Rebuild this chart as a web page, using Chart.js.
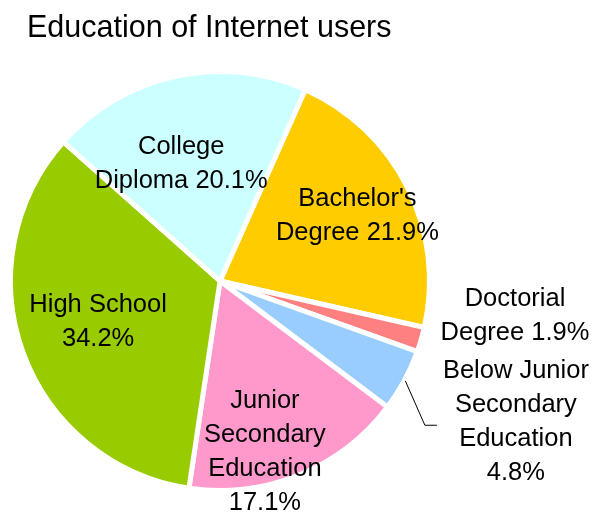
<!DOCTYPE html>
<html>
<head>
<meta charset="utf-8">
<title>Education of Internet users</title>
<script src="https://cdn.jsdelivr.net/npm/chart.js@4"></script>
<style>
  html, body { margin: 0; padding: 0; background: #fff; }
  canvas { display: block; }
</style>
</head>
<body>
<canvas id="eduPie" width="591" height="516"></canvas>
<script>
// ===== Data =====
const chartTitle = 'Education of Internet users';
const categories = [
  "Bachelor's Degree",
  'Doctorial Degree',
  'Below Junior Secondary Education',
  'Junior Secondary Education',
  'High School',
  'College Diploma'
];
const shares = [21.9, 1.9, 4.8, 17.1, 34.2, 20.1];
// how each label is broken into lines, {v} = the share
const labelLines = [
  ["Bachelor's", 'Degree {v}'],
  ['Doctorial', 'Degree {v}'],
  ['Below Junior', 'Secondary', 'Education', '{v}'],
  ['Junior', 'Secondary', 'Education', '{v}'],
  ['High School', '{v}'],
  ['College', 'Diploma {v}']
];
const sliceColors = ['#ffcc00', '#ff8080', '#99ccff', '#ff99cc', '#99cc00', '#ccffff'];

const FONT = '"Liberation Sans", Arial, Helvetica, sans-serif';

// ===== Title + slice labels =====
const pieText = {
  id: 'pieText',
  afterDraw(chart, args, opts) {
    const ctx = chart.ctx;
    ctx.save();
    ctx.fillStyle = '#000';

    // title
    ctx.font = '30.5px ' + FONT;
    ctx.textAlign = 'left';
    ctx.textBaseline = 'alphabetic';
    ctx.fillText(chartTitle, 27, 37);

    // labels
    ctx.font = opts.fontSize + 'px ' + FONT;
    ctx.textAlign = 'center';
    ctx.textBaseline = 'middle';
    const meta = chart.getDatasetMeta(0);
    const values = chart.data.datasets[0].data;
    meta.data.forEach((arc, i) => {
      const p = arc.getProps(['x', 'y', 'startAngle', 'endAngle', 'outerRadius'], true);
      const mid = (p.startAngle + p.endAngle) / 2;
      const [f, nudge] = opts.place[i];
      const a = mid + nudge * Math.PI / 180;
      const lx = p.x + Math.cos(a) * p.outerRadius * f;
      const ly = p.y + Math.sin(a) * p.outerRadius * f;
      const lines = labelLines[i].map(s => s.replace('{v}', values[i].toFixed(1) + '%'));
      const top = ly - (lines.length - 1) * opts.lineHeight / 2;
      lines.forEach((s, k) => ctx.fillText(s, lx, top + k * opts.lineHeight));

      if (opts.leader.includes(i)) {
        const w = Math.max(...lines.map(s => ctx.measureText(s).width));
        const left = lx - w / 2;
        ctx.beginPath();
        ctx.moveTo(p.x + Math.cos(mid) * (p.outerRadius + 1), p.y + Math.sin(mid) * (p.outerRadius + 1));
        ctx.lineTo(left - 18, ly + 3);
        ctx.lineTo(left - 6, ly + 3);
        ctx.strokeStyle = '#000';
        ctx.lineWidth = 1;
        ctx.stroke();
      }
    });
    ctx.restore();
  }
};

// ===== Pie =====
new Chart(document.getElementById('eduPie'), {
  type: 'pie',
  data: {
    labels: categories,
    datasets: [{
      data: shares,
      backgroundColor: sliceColors,
      borderColor: '#fff',
      borderWidth: 5,
      hoverOffset: 0
    }]
  },
  options: {
    responsive: false,
    animation: false,
    rotation: 24,
    layout: { padding: { left: 8, top: 69, right: 159, bottom: 23 } },
    plugins: {
      legend: { display: false },
      tooltip: { enabled: false },
      pieText: {
        fontSize: 25.5,
        lineHeight: 34,
        // [distance as a fraction of the radius, angle nudge in degrees]
        place: [[0.726, 1.2], [1.418, -9.5], [1.565, -2.8], [0.846, 7.6], [0.614, 1.3], [0.587, -6.2]],
        leader: [2]
      }
    }
  },
  plugins: [pieText]
});
</script>
</body>
</html>
